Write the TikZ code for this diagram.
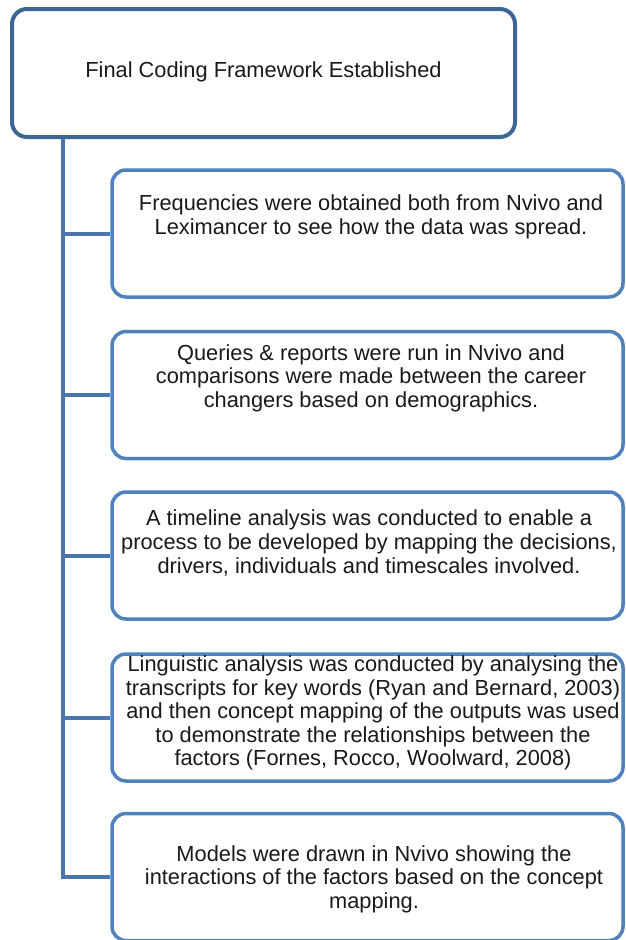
\documentclass[tikz,border=0pt]{standalone}
\usepackage{fontspec}
\setmainfont{Liberation Sans}
\definecolor{headblue}{HTML}{3D6695}
\definecolor{stepblue}{HTML}{4F81BD}
\definecolor{linkblue}{HTML}{4A76AB}
\begin{document}
\begin{tikzpicture}[x=1pt,y=-1pt,
  headbox/.style={draw=headblue, line width=4pt, rounded corners=15pt,
    rectangle, inner sep=0pt, minimum width=503pt, minimum height=128pt},
  stepbox/.style={draw=stepblue, line width=3.5pt, rounded corners=14pt,
    rectangle, inner sep=0pt, minimum width=511pt, minimum height=127pt},
  note/.style={align=center, inner sep=0pt, text=black!90,
    font=\fontsize{21.8}{23.6}\selectfont},
  link/.style={draw=linkblue, line width=4pt}]
\useasboundingbox (0,0) rectangle (625,940);

% heading box
\node[headbox] (head) at (263.5,73) {};
\node[note] (headtext) at (263.5,72) {Final Coding Framework Established};

% step boxes
\node[stepbox] (s1) at (367.5,233.5) {};
\node[stepbox] (s2) at (367.5,395) {};
\node[stepbox] (s3) at (367.5,555.5) {};
\node[stepbox] (s4) at (367.5,717.5) {};
\node[stepbox] (s5) at (367.5,877) {};

% step texts
\node[note] (t1) at (371,217) {Frequencies were obtained both from Nvivo and\\
  Leximancer to see how the data was spread.};
\node[note] (t2) at (371,378) {Queries \& reports were run in Nvivo and\\
  comparisons were made between the career\\
  changers based on demographics.};
\node[note] (t3) at (369,543) {A timeline analysis was conducted to enable a\\
  process to be developed by mapping the decisions,\\
  drivers, individuals and timescales involved.};
\node[note] (t4) at (373,713) {Linguistic analysis was conducted by analysing the\\
  transcripts for key words (Ryan and Bernard, 2003)\\
  and then concept mapping of the outputs was used\\
  to demonstrate the relationships between the\\
  factors (Fornes, Rocco, Woolward, 2008)};
\node[note] (t5) at (374,879) {Models were drawn in Nvivo showing the\\
  interactions of the factors based on the concept\\
  mapping.};

% trunk and branches
\coordinate (spine) at (63,0);
\draw[link] (head.south -| spine) |- (s5.west);
\foreach \s in {s1,s2,s3,s4}
  \draw[link] (spine |- \s.west) -- (\s.west);
\end{tikzpicture}
\end{document}
